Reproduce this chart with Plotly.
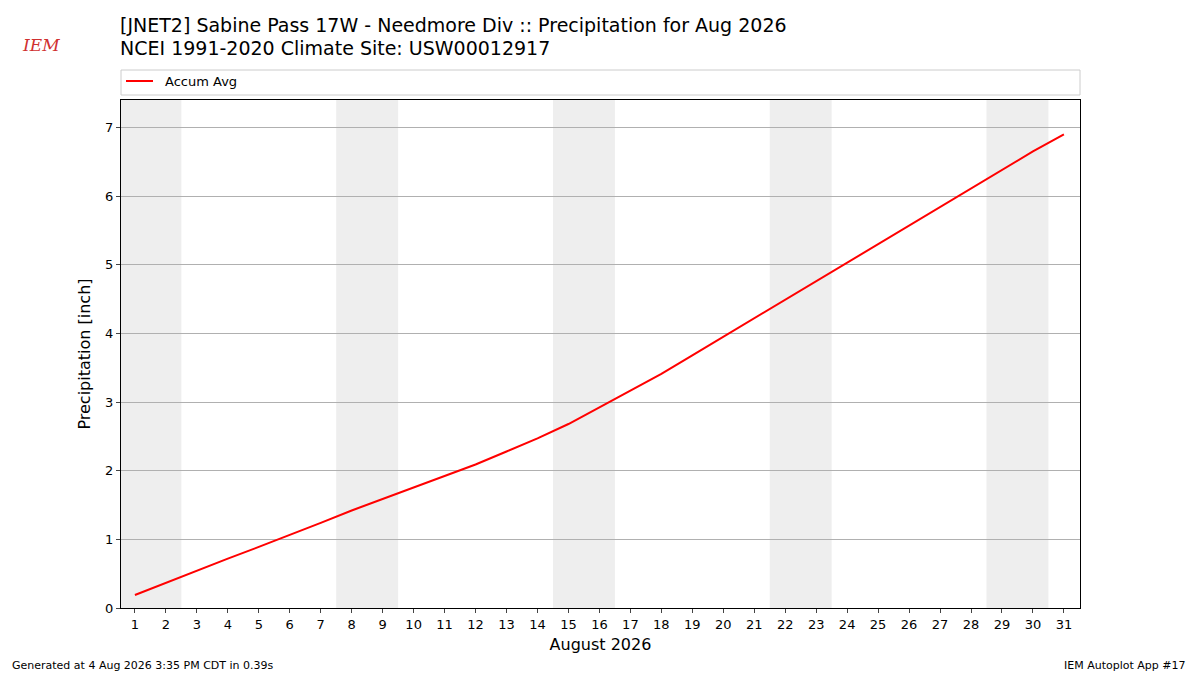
import plotly.graph_objects as go

########## Data
days = list(range(1, 32))
accum_avg = [0.19, 0.37, 0.54, 0.72, 0.89, 1.06, 1.24, 1.42, 1.59, 1.76,
             1.93, 2.09, 2.28, 2.47, 2.68, 2.92, 3.16, 3.41, 3.68, 3.95,
             4.22, 4.49, 4.76, 5.03, 5.29, 5.56, 5.83, 6.10, 6.38, 6.65, 6.90]
weekends = [(0.5, 2.5), (7.5, 9.5), (14.5, 16.5), (21.5, 23.5), (28.5, 30.5)]

W, H = 1200, 675
L, R, T, B = 121, 1080, 100, 608


def px(x):
    return (x - L) / (R - L)


def py(y):
    return (B - y) / (B - T)


fig = go.Figure()
fig.add_trace(go.Scatter(x=days, y=accum_avg, mode='lines', name='Accum Avg',
                         line=dict(color='red', width=2)))

# weekend shading
for x0, x1 in weekends:
    fig.add_vrect(x0=x0, x1=x1, fillcolor='#eeeeee', line_width=0, layer='below')

font = dict(family='DejaVu Sans', color='black')
fig.update_layout(
    width=W, height=H, plot_bgcolor='white', paper_bgcolor='white',
    font=dict(family='DejaVu Sans', size=13, color='black'),
    margin=dict(l=L, r=W - R, t=T, b=H - B),
    showlegend=False,
    xaxis=dict(range=[0.55, 31.52], tickmode='array', tickvals=days,
               ticks='outside', ticklen=4, showgrid=False, showline=True,
               linecolor='black', mirror=True, tickfont=dict(size=13),
               title=dict(text='August 2026', font=dict(size=16), standoff=8)),
    yaxis=dict(range=[0, 7.4], dtick=1, ticks='outside', ticklen=4,
               showgrid=True, gridcolor='#b0b0b0', showline=True,
               linecolor='black', mirror=True, zeroline=False, tickfont=dict(size=13),
               title=dict(text='Precipitation [inch]', font=dict(size=16), standoff=10)),
)


def note(x, y, text, size, anchor='left', **kw):
    fig.add_annotation(x=px(x), y=py(y), xref='paper', yref='paper', xanchor=anchor,
                       yanchor='middle', showarrow=False, text=text,
                       font=kw.get('f', dict(size=size, **font)))


# titles
note(118, 25, '[JNET2] Sabine Pass 17W - Needmore Div :: Precipitation for Aug 2026', 19)
note(118, 48, 'NCEI 1991-2020 Climate Site: USW00012917', 19)

# legend box
fig.add_shape(type='rect', xref='paper', yref='paper', x0=0, x1=1,
              y0=py(95), y1=py(70), line=dict(color='#cccccc', width=1), fillcolor='white')
fig.add_shape(type='line', xref='paper', yref='paper', x0=px(126), x1=px(153),
              y0=py(81), y1=py(81), line=dict(color='red', width=2))
note(163, 81, 'Accum Avg', 13)

# logo placeholder
note(20, 45, '<i>IEM</i>', 17, f=dict(size=17, family='DejaVu Serif', color='#d03030'))

# footer
note(10, 665, 'Generated at 4 Aug 2026 3:35 PM CDT in 0.39s', 11)
note(1188, 665, 'IEM Autoplot App #17', 11, anchor='right')

fig.write_html("out.html", config={'displayModeBar': False},
               post_script="document.body.style.margin='0';")
